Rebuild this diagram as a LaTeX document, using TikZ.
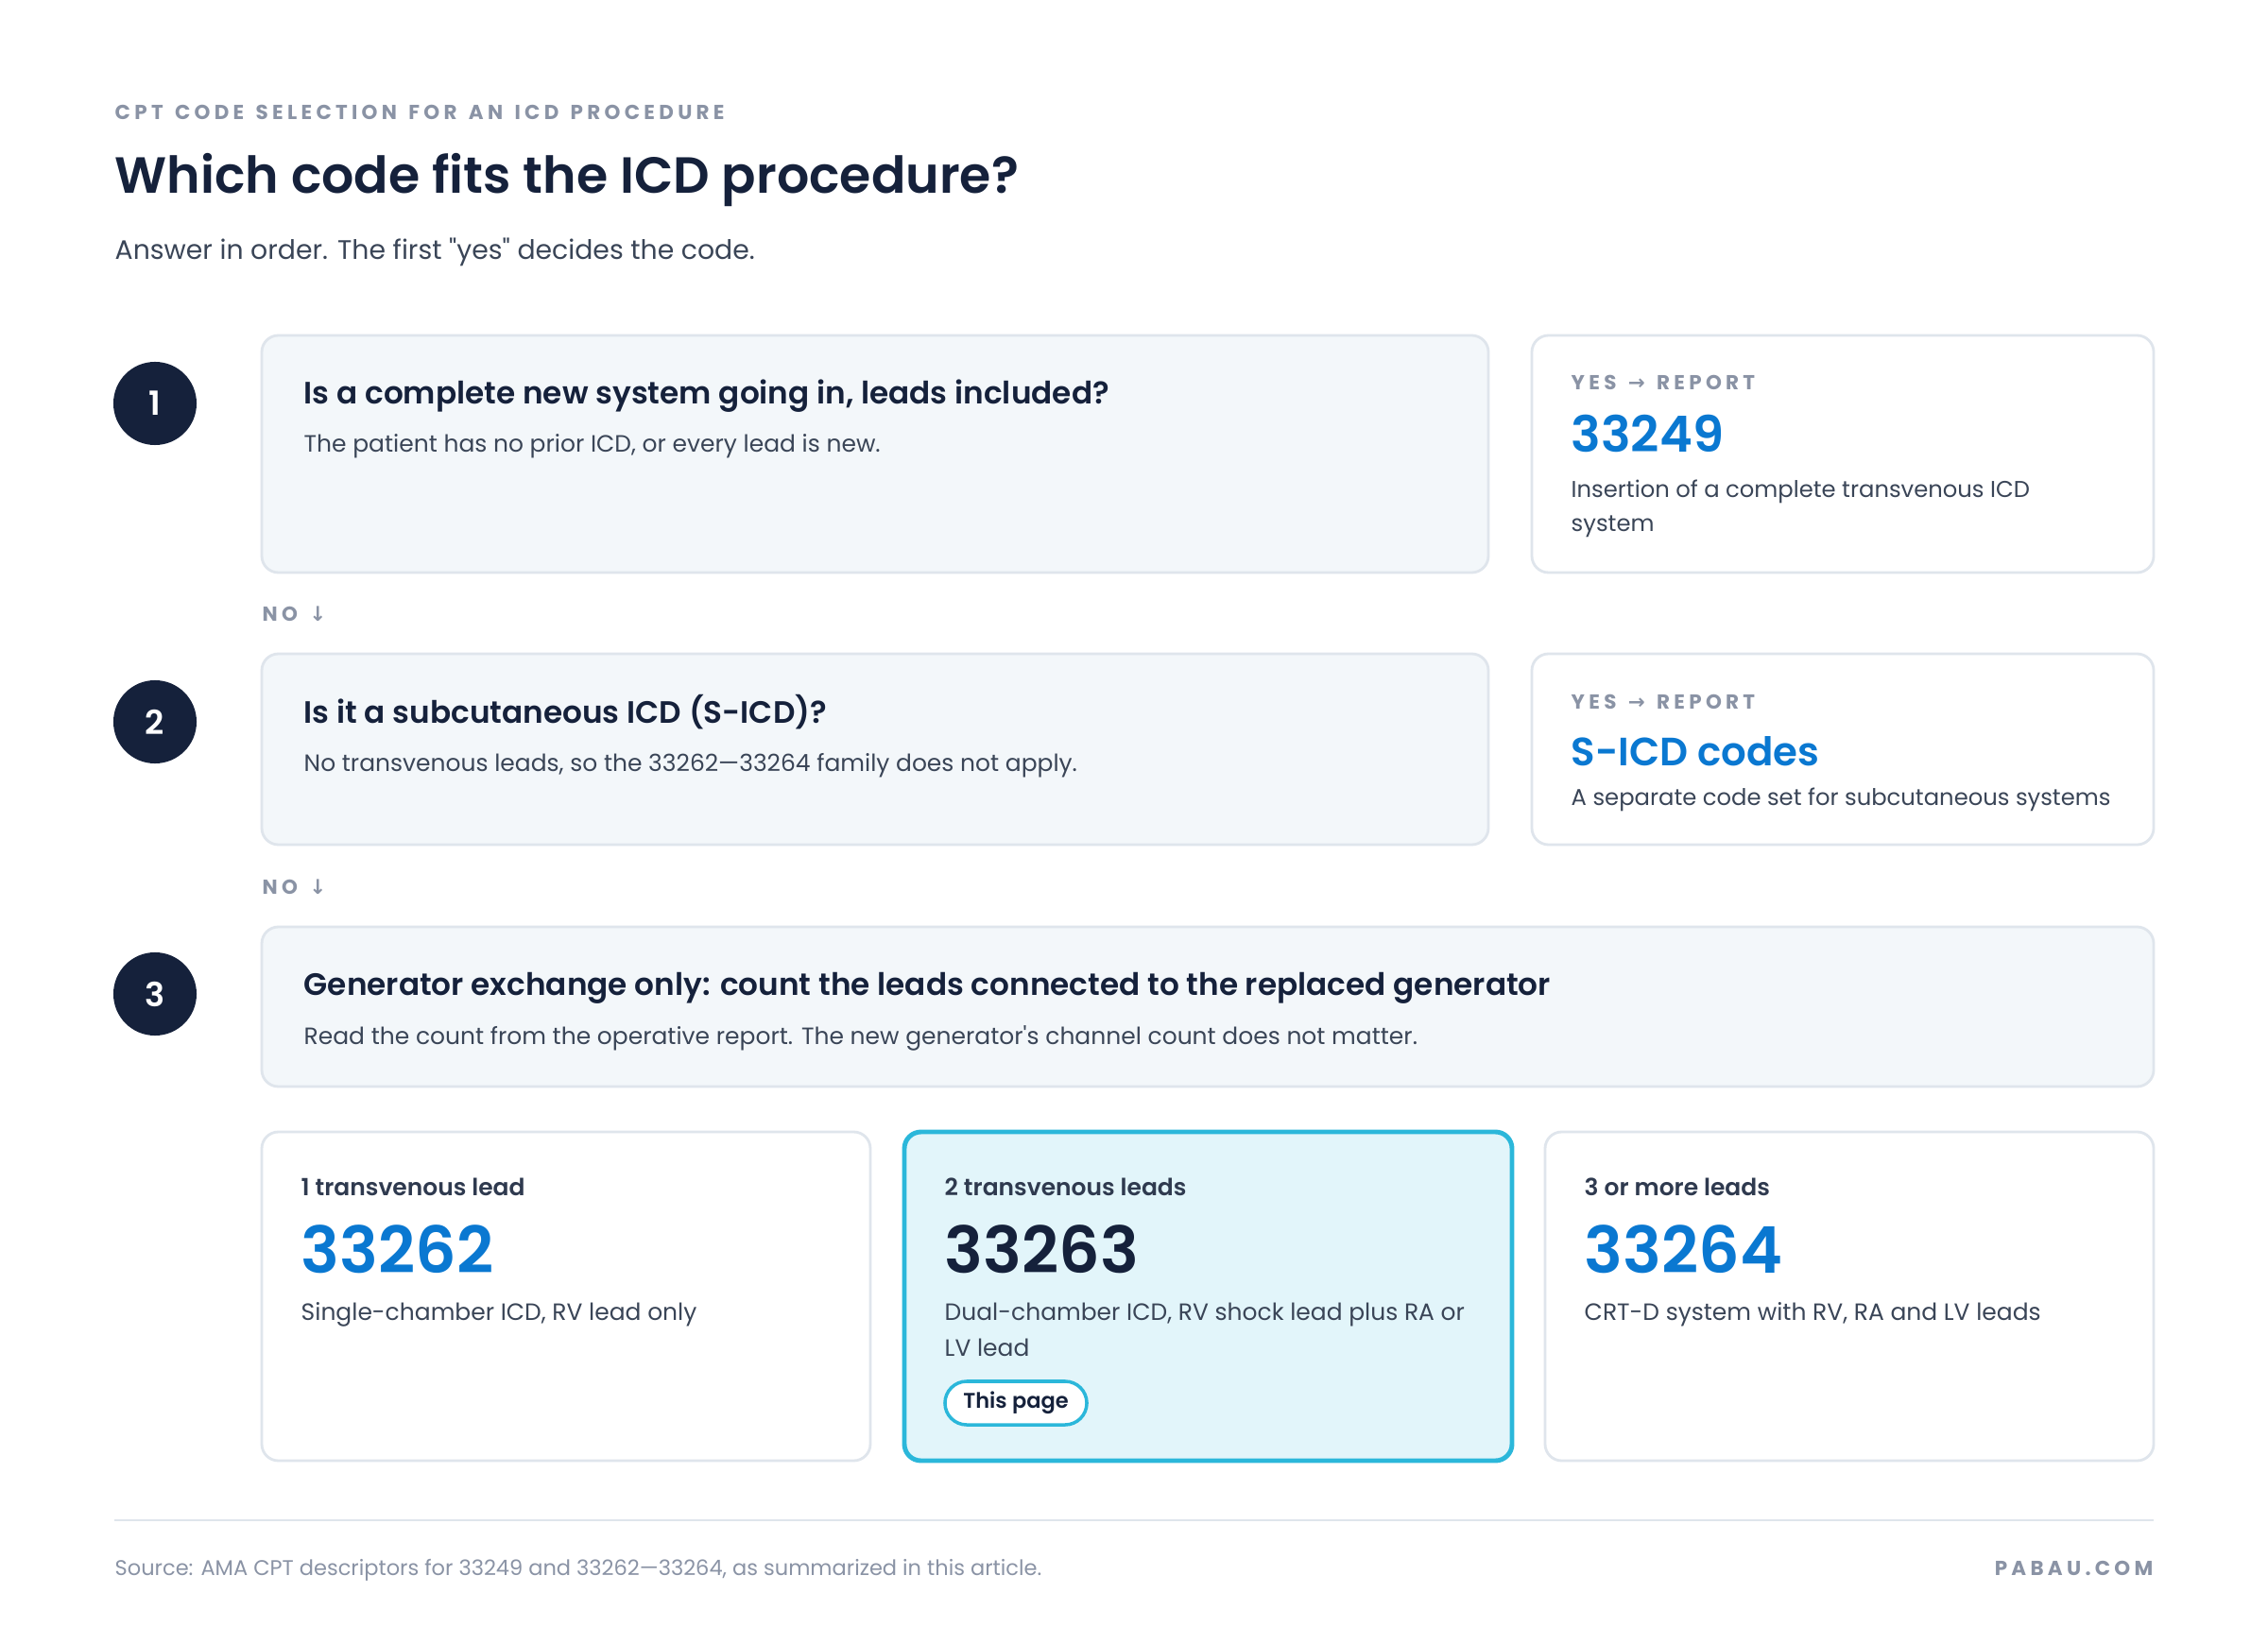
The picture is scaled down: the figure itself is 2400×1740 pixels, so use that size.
\documentclass[tikz,border=0pt]{standalone}
\usepackage{fontspec}
\setmainfont{Poppins}[Ligatures=TeXOff,BoldFont={Poppins SemiBold}]
\newfontfamily\arrowfont{DejaVu Sans}
\newfontfamily\capsfont{Poppins}[LetterSpace=20,WordSpace=1.4]
\usetikzlibrary{fit}
\definecolor{navy}{HTML}{15213B}
\definecolor{slate}{HTML}{3A4557}
\definecolor{muted}{HTML}{8A93A5}
\definecolor{codeblue}{HTML}{0A78D1}
\definecolor{panel}{HTML}{F3F7FA}
\definecolor{edge}{HTML}{DFE5EC}
\definecolor{hifill}{HTML}{E2F5FA}
\definecolor{hiedge}{HTML}{2BB7DA}
\newcommand\fsz[2]{\fontsize{#1}{#2}\selectfont}

\begin{document}
\begin{tikzpicture}[x=0.01cm,y=-0.01cm,
  qbox/.style={draw=edge,fill=panel,line width=0.8pt,rounded corners=5pt,inner sep=0pt},
  ybox/.style={qbox,fill=white},
  hbox/.style={qbox,draw=hiedge,fill=hifill,line width=1.4pt},
  stepnum/.style={circle,fill=navy,inner sep=0pt,minimum size=0.88cm,text=white,font=\fsz{10}{12}\bfseries},
  txt/.style={anchor=base west,inner sep=0pt,align=left},
  kicker/.style={txt,text=muted,font=\capsfont\fsz{6.1}{8}\bfseries},
  qtitle/.style={txt,text=navy,font=\fsz{9.3}{11}\bfseries},
  qnote/.style={txt,text=slate,font=\fsz{7.1}{10}},
  code/.style={txt,text=codeblue,font=\fsz{15}{18}\bfseries},
  bigcode/.style={txt,text=codeblue,font=\fsz{19.4}{22}\bfseries},
  leadlbl/.style={txt,text=slate!70!navy,font=\fsz{7.1}{10}\bfseries},
  desc/.style={txt,text=slate,font=\fsz{6.9}{10.5}},
  pill/.style={draw=hiedge,fill=white,line width=1pt,rounded corners=0.23cm,minimum width=1.5cm,minimum height=0.46cm,inner sep=0pt,text=navy,font=\fsz{6.4}{9}\bfseries}]
\fill[white] (0,0) rectangle (2400,1740);
\path[use as bounding box] (0,0) rectangle (2400,1740);

\node[kicker] (kick) at (121,127) {CPT CODE SELECTION FOR AN ICD PROCEDURE};
\node[txt,text=navy,font=\fsz{15.3}{18}\bfseries] (title) at (121,205) {Which code fits the ICD procedure?};
\node[txt,text=slate,font=\fsz{8.05}{10}] (lead) at (121,275) {Answer in order. The first "yes" decides the code.};

\node[stepnum] (n1) at (164,427) {1};
\node[qbox,fit={(277,355) (1575,606)}] (q1) {};
\node[ybox,fit={(1621,355) (2279,606)}] (y1) {};
\node[qtitle] (q1t) at (321,428) {Is a complete new system going in, leads included?};
\node[qnote] (q1n) at (321,479) {The patient has no prior ICD, or every lead is new.};
\node[kicker] (y1k) at (1662,413) {YES {\arrowfont →} REPORT};
\node[code] (y1c) at (1662,479) {33249};
\node[desc] (y1d) at (1662,563) {Insertion of a complete transvenous ICD\\system};
\node[kicker] (no1) at (277,658) {NO {\arrowfont ↓}};

\node[stepnum] (n2) at (164,764) {2};
\node[qbox,fit={(277,692) (1575,894)}] (q2) {};
\node[ybox,fit={(1621,692) (2279,894)}] (y2) {};
\node[qtitle] (q2t) at (321,765) {Is it a subcutaneous ICD (S-ICD)?};
\node[qnote] (q2n) at (321,816) {No transvenous leads, so the 33262—33264 family does not apply.};
\node[kicker] (y2k) at (1662,750) {YES {\arrowfont →} REPORT};
\node[code,font=\fsz{11.9}{15}\bfseries] (y2c) at (1662,810) {S-ICD codes};
\node[desc] (y2d) at (1662,852) {A separate code set for subcutaneous systems};
\node[kicker] (no2) at (277,946) {NO {\arrowfont ↓}};

\node[stepnum] (n3) at (164,1052) {3};
\node[qbox,fit={(277,981) (2279,1150)}] (q3) {};
\node[qtitle] (q3t) at (321,1053) {Generator exchange only: count the leads connected to the replaced generator};
\node[qnote] (q3n) at (321,1105) {Read the count from the operative report. The new generator's channel count does not matter.};

\node[ybox,fit={(277,1198) (921,1546)}] (l1) {};
\node[hbox,fit={(957,1198) (1600,1546)}] (l2) {};
\node[ybox,fit={(1635,1198) (2279,1546)}] (l3) {};
\node[leadlbl] (l1t) at (318,1265) {1 transvenous lead};
\node[bigcode] (l1c) at (318,1347) {33262};
\node[desc,font=\fsz{7.1}{10.8}] (l1d) at (318,1397) {Single-chamber ICD, RV lead only};
\node[leadlbl] (l2t) at (999,1265) {2 transvenous leads};
\node[bigcode,text=navy] (l2c) at (999,1347) {33263};
\node[desc,font=\fsz{7.1}{10.8}] (l2d) at (999,1435) {Dual-chamber ICD, RV shock lead plus RA or\\LV lead};
\node[pill] (tag) at (1075,1485) {This page};
\node[leadlbl] (l3t) at (1676,1265) {3 or more leads};
\node[bigcode] (l3c) at (1676,1347) {33264};
\node[desc,font=\fsz{7.1}{10.8}] (l3d) at (1676,1397) {CRT-D system with RV, RA and LV leads};

\draw[edge,line width=0.8pt] (121,1609) -- (2279,1609);
\node[txt,text=muted,font=\fsz{6.4}{9}] (src) at (121,1667) {Source: AMA CPT descriptors for 33249 and 33262—33264, as summarized in this article.};
\node[kicker,anchor=base east] (brand) at (2279,1667) {PABAU.COM};
\end{tikzpicture}
\end{document}
